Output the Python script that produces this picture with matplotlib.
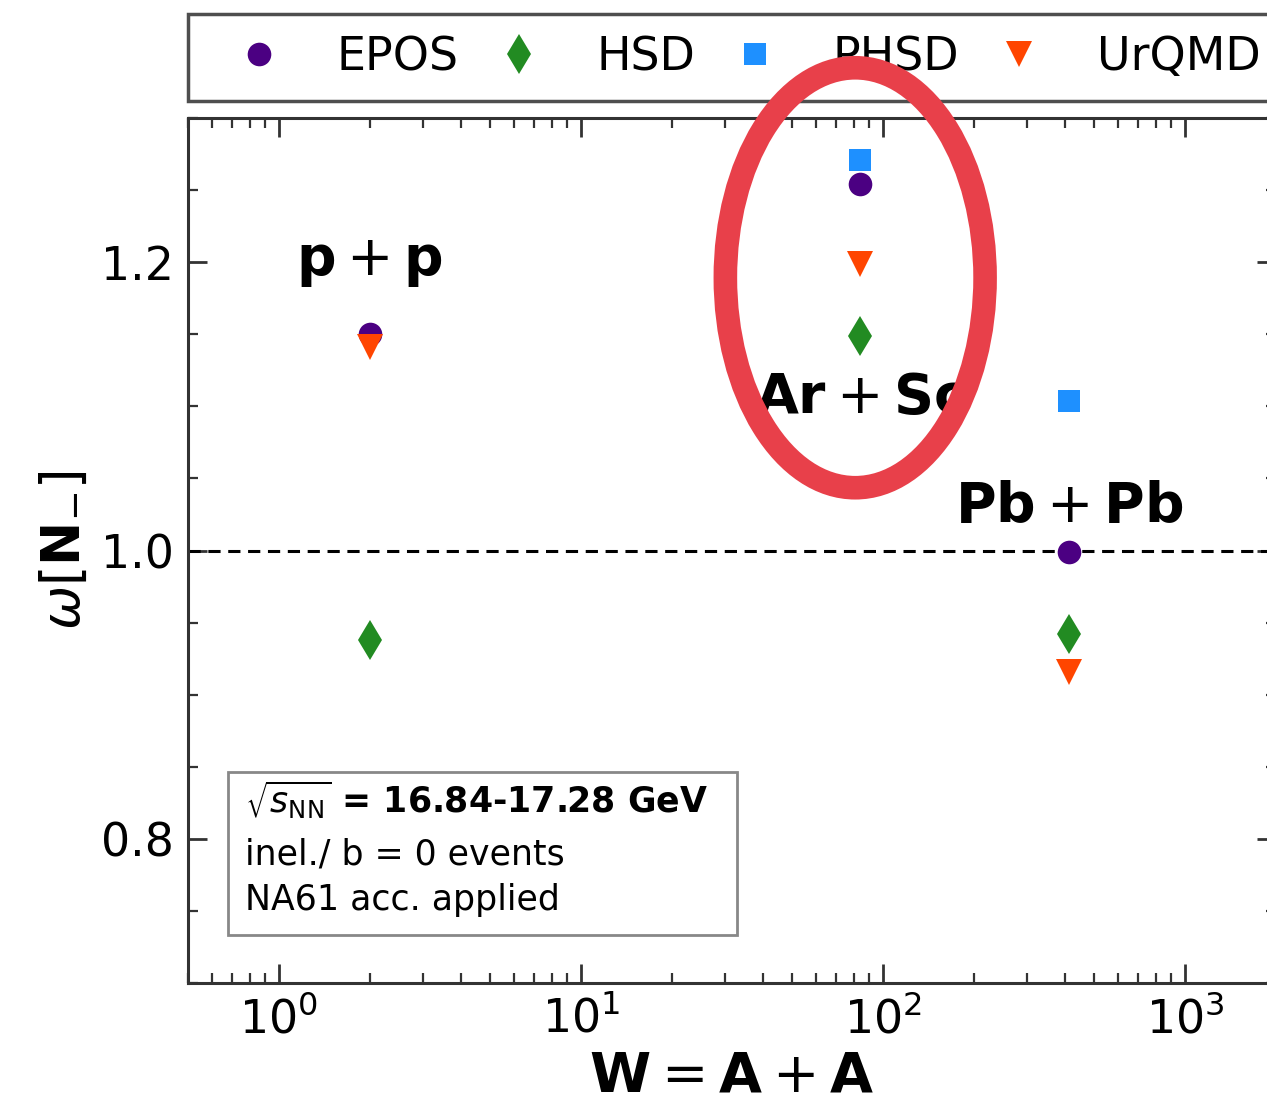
import matplotlib
matplotlib.use("Agg")
import matplotlib.pyplot as plt
from matplotlib.patches import Ellipse, Rectangle
from matplotlib.ticker import MultipleLocator, LogLocator, NullFormatter

plt.rcParams['mathtext.fontset'] = 'dejavusans'
plt.rcParams['font.family'] = ['DejaVu Sans']

# system size W = A + A for p+p, Ar+Sc, Pb+Pb
W = [2, 84, 413]
models = ['EPOS', 'HSD', 'PHSD', 'UrQMD']
epos = [1.150, 1.254, 0.999]
hsd = [0.938, 1.149, 0.942]
phsd = [None, 1.271, 1.104]
urqmd = [1.141, 1.199, 0.916]

colors = {'EPOS': '#4B0082', 'HSD': '#228B22', 'PHSD': '#1E90FF', 'UrQMD': '#FF4500'}
markers = {'EPOS': 'o', 'HSD': 'd', 'PHSD': 's', 'UrQMD': 'v'}
sizes = {'EPOS': 17, 'HSD': 20, 'PHSD': 16, 'UrQMD': 19}
values = {'EPOS': epos, 'HSD': hsd, 'PHSD': phsd, 'UrQMD': urqmd}

fig = plt.figure(figsize=(12.67, 11.11), dpi=100)
ax = fig.add_axes([0.1484, 0.1152, 0.8587, 0.7786])

for m in models:
    xs = [w for w, v in zip(W, values[m]) if v is not None]
    ys = [v for v in values[m] if v is not None]
    ax.plot(xs, ys, linestyle='none', marker=markers[m], color=colors[m],
            markersize=sizes[m], markeredgewidth=0, label=m, zorder=3)

ax.axhline(1.0, color='black', linestyle='--', linewidth=2.2, dashes=(4, 2.5), zorder=2)

ax.set_xscale('log')
ax.set_xlim(0.5, 2000)
ax.set_ylim(0.7, 1.3)
ax.yaxis.set_major_locator(MultipleLocator(0.2))
ax.yaxis.set_minor_locator(MultipleLocator(0.05))
ax.xaxis.set_major_locator(LogLocator(base=10))
ax.xaxis.set_minor_locator(LogLocator(base=10, subs=range(2, 10)))
ax.xaxis.set_minor_formatter(NullFormatter())

ax.tick_params(which='both', direction='in', top=True, right=True,
               color='#333333', labelsize=33, pad=10)
ax.tick_params(which='major', length=14, width=2)
ax.tick_params(which='minor', length=7, width=1.6)
for s in ax.spines.values():
    s.set_color('#333333')
    s.set_linewidth(2.2)

ax.set_xlabel(r'$\mathbf{W} = \mathbf{A} + \mathbf{A}$', fontsize=40, labelpad=5)
ax.set_ylabel(r'$\omega[\mathbf{N}_{-}]$', fontsize=38, labelpad=8)

ax.text(2, 1.2, r'$\mathbf{p} + \mathbf{p}$', fontsize=40, ha='center', va='center')
ax.text(84, 1.106, r'$\mathbf{Ar} + \mathbf{Sc}$', fontsize=40, ha='center', va='center')
ax.text(413, 1.03, r'$\mathbf{Pb} + \mathbf{Pb}$', fontsize=40, ha='center', va='center')

# info box
ax.add_patch(Rectangle((0.0368, 0.0555), 0.468, 0.1884, transform=ax.transAxes,
                       fill=False, edgecolor='#888888', linewidth=2, zorder=4))
ax.text(0.052, 0.212, r'$\sqrt{s_{\rm NN}}$ = 16.84-17.28 GeV', transform=ax.transAxes,
        fontsize=25, fontweight='bold', va='center', ha='left')
ax.text(0.052, 0.148, 'inel./ b = 0 events', transform=ax.transAxes,
        fontsize=25, va='center', ha='left')
ax.text(0.052, 0.096, 'NA61 acc. applied', transform=ax.transAxes,
        fontsize=25, va='center', ha='left')

leg = ax.legend(loc='lower left', bbox_to_anchor=(0.0, 1.02), ncol=4, fontsize=33,
                frameon=True, fancybox=False, borderaxespad=0, borderpad=0.45,
                handlelength=2.2, handletextpad=0.6, columnspacing=0.2,
                markerscale=1.0)
leg.get_frame().set_edgecolor('#222222')
leg.get_frame().set_linewidth(2.5)

# hand-drawn highlight around Ar+Sc
fig.patches.append(Ellipse((0.675, 0.75), 0.205, 0.378, transform=fig.transFigure,
                           fill=False, edgecolor='#E8404A', linewidth=17, zorder=10))

fig.savefig('out.png', dpi=100)
